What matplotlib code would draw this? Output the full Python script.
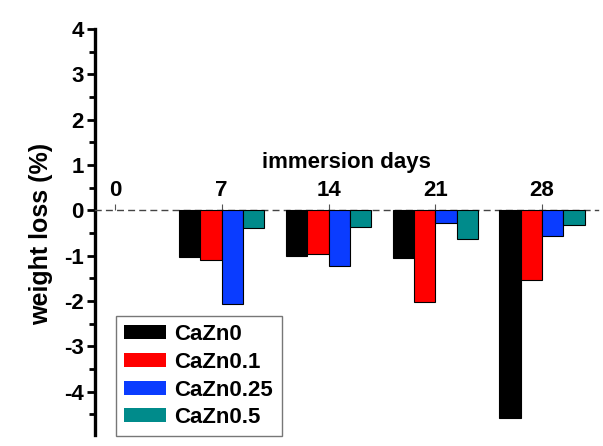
import matplotlib
matplotlib.use("Agg")
import matplotlib.pyplot as plt
import numpy as np
from matplotlib.ticker import MultipleLocator

days = [0, 7, 14, 21, 28]
series_names = ["CaZn0", "CaZn0.1", "CaZn0.25", "CaZn0.5"]
cazn0 = [0.0, -1.03, -1.01, -1.05, -4.58]
cazn01 = [0.0, -1.09, -0.97, -2.02, -1.55]
cazn025 = [0.0, -2.07, -1.22, -0.29, -0.57]
cazn05 = [0.0, -0.40, -0.37, -0.64, -0.33]
colors = ["#000000", "#ff0000", "#0a3cff", "#008b8b"]
y_ticks = [4, 3, 2, 1, 0, -1, -2, -3, -4]

plt.rcParams['font.family'] = ['Liberation Sans', 'DejaVu Sans']
plt.rcParams['font.weight'] = 'bold'

fig = plt.figure(figsize=(6.03, 4.46), dpi=100)
ax = fig.add_axes([95/603, 1-435/446, (598-95)/603, (435-29)/446])

width = 1.4
all_series = [cazn0, cazn01, cazn025, cazn05]
x = np.array(days, dtype=float)
for i, (vals, name, c) in enumerate(zip(all_series, series_names, colors)):
    offs = (i - 2) * width
    lws = [0.8 if v != 0 else 0.0 for v in vals]
    ax.bar(x + offs, vals, width=width, align='edge', color=c,
           edgecolor='black', linewidth=lws, label=name, zorder=3)

ax.set_xlim(-1.31, 31.67)
ax.set_ylim(-4.96, 4)

for s in ['right', 'bottom']:
    ax.spines[s].set_visible(False)
ax.spines['left'].set_linewidth(2.4)
ax.spines['top'].set_position(('data', 0))
ax.spines['top'].set_linestyle((0, (4, 4)))
ax.spines['top'].set_color('#444444')
ax.spines['top'].set_linewidth(1.0)

ax.xaxis.set_ticks_position('top')
ax.xaxis.set_label_position('top')
ax.set_xticks(days)
ax.set_xticklabels([str(d) for d in days])
ax.tick_params(axis='x', direction='out', length=4, width=0.8, color='#555555',
               labelsize=16, pad=3)
ax.set_xlabel("immersion days", fontsize=16, fontweight='bold', labelpad=8)

ax.set_yticks(y_ticks)
ax.set_yticklabels([str(v) for v in y_ticks])
ax.yaxis.set_minor_locator(MultipleLocator(0.5))
ax.tick_params(axis='y', which='major', direction='out', length=6, width=2, labelsize=16, pad=2)
ax.tick_params(axis='y', which='minor', direction='out', length=4, width=2)
ax.set_ylabel("weight loss (%)", fontsize=18, fontweight='bold')
ax.yaxis.set_label_coords(-0.083, 0.495)

leg = ax.legend(loc='lower left', bbox_to_anchor=(116/603, 1-436/446, 166/603, 120/446),
                bbox_transform=fig.transFigure, mode='expand', fontsize=16,
                handlelength=1.9, handleheight=0.6, labelspacing=0.3,
                borderaxespad=0, borderpad=0.35, handletextpad=0.35,
                fancybox=False, edgecolor='#777777', framealpha=1)
leg.get_frame().set_linewidth(1.0)
for t in leg.get_texts():
    t.set_fontweight('bold')

fig.savefig("out.png", dpi=100)
